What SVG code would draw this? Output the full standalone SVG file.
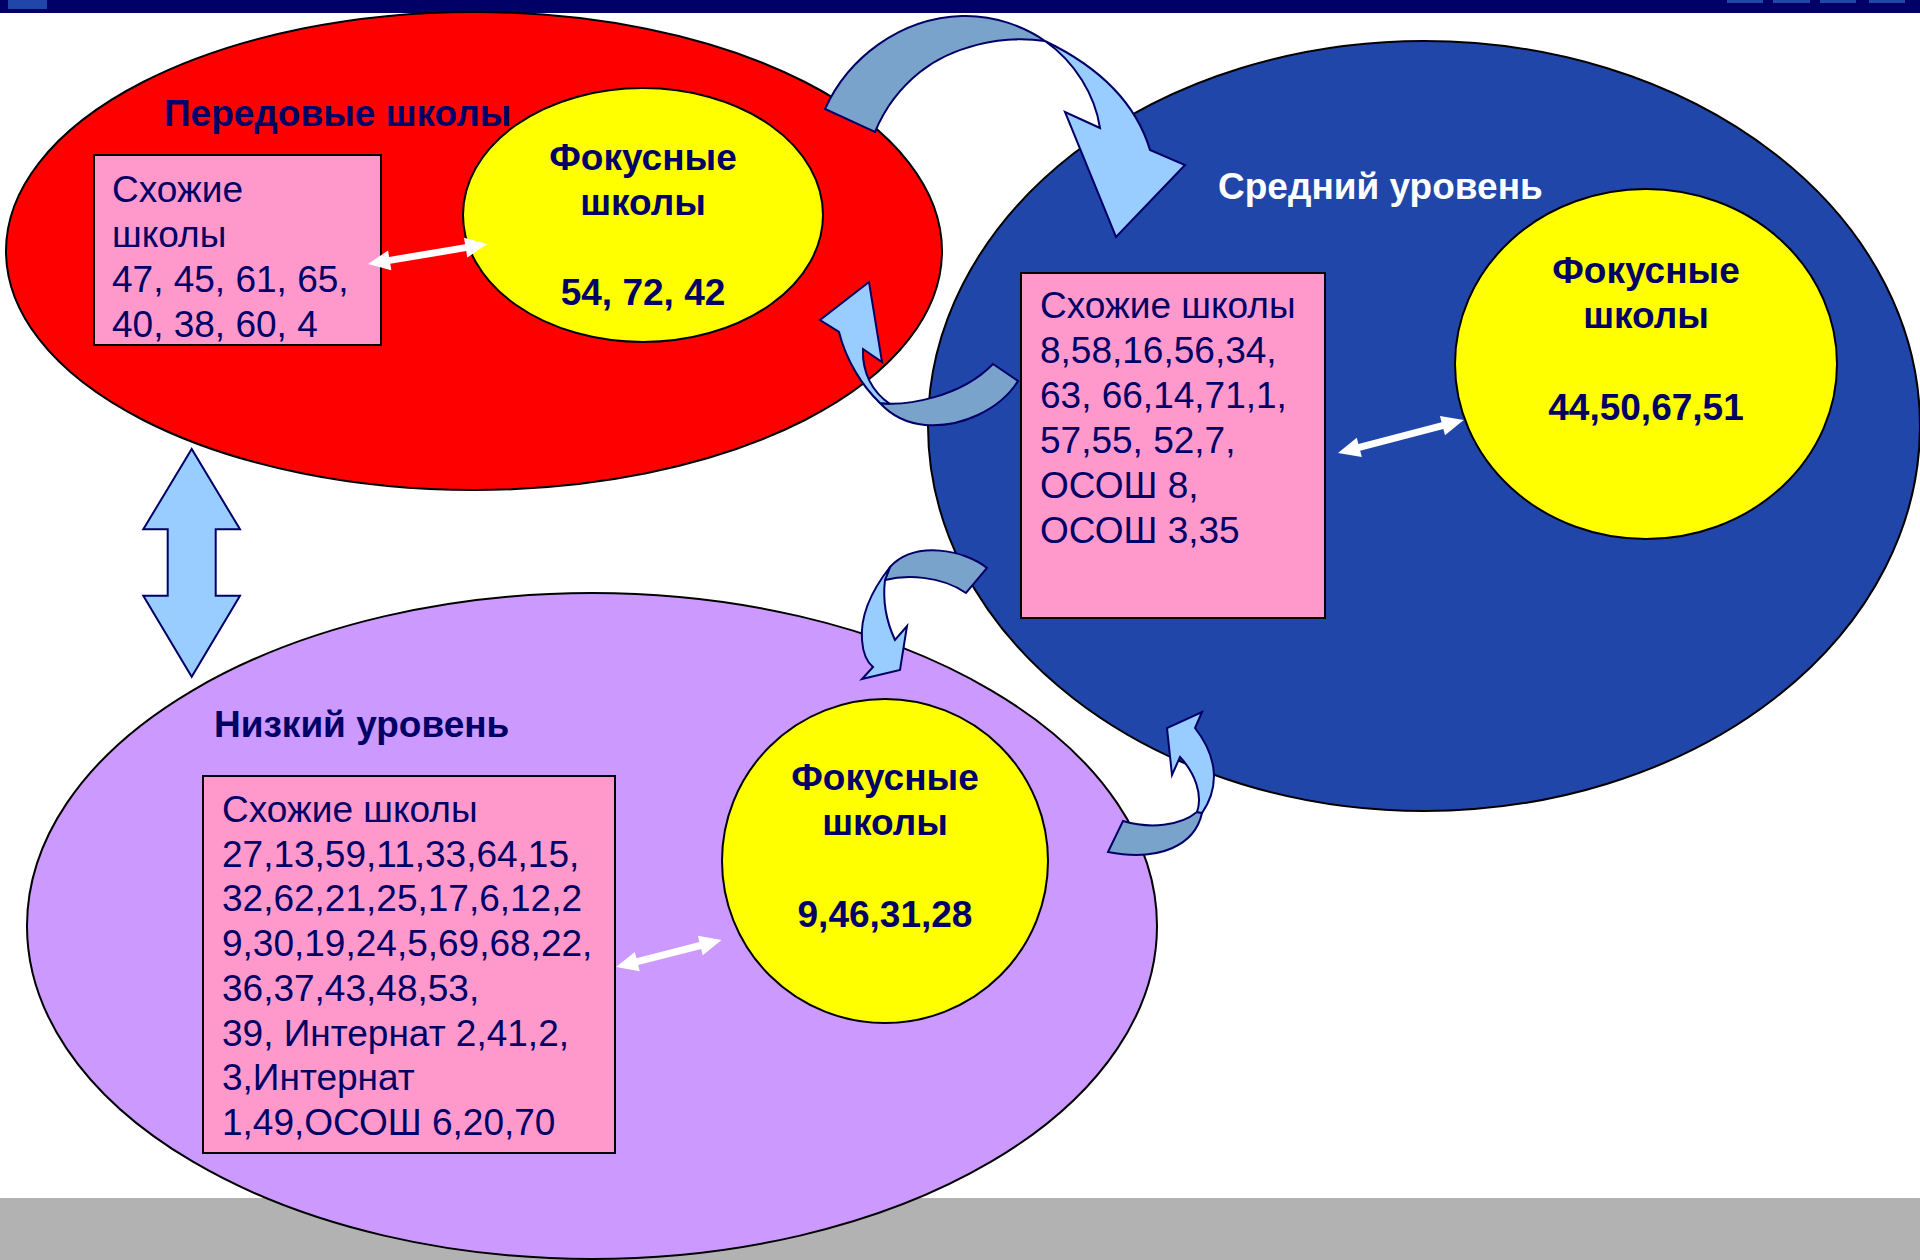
<svg xmlns="http://www.w3.org/2000/svg" width="1920" height="1260" viewBox="0 0 1920 1260">
<defs>
<style>
.ell{stroke:#000;stroke-width:2}
.box{fill:#FF99CC;stroke:#000;stroke-width:2}
.foc{fill:#FFFF00;stroke:#000;stroke-width:2}
.t{font-family:"Liberation Sans",Arial,sans-serif;font-size:37px;fill:#000066}
.tb{font-family:"Liberation Sans",Arial,sans-serif;font-size:37px;font-weight:bold;fill:#000066}
.fb{font-family:"Liberation Sans",Arial,sans-serif;font-size:37px;font-weight:bold;fill:#000066;text-anchor:middle}
.dk{fill:#7AA3CC;stroke:#000066;stroke-width:2;stroke-linejoin:miter}
.lt{fill:#99CCFF;stroke:#000066;stroke-width:2;stroke-linejoin:miter}
.wa{fill:#FFFFFF}
.sq{fill:#2146AA}
</style>
</defs>
<rect x="0" y="0" width="1920" height="1260" fill="#FFFFFF"/>
<g id="frame">
<rect x="0" y="0" width="1920" height="13" fill="#000066"/>
<rect class="sq" x="8" y="0" width="39" height="9"/>
<rect class="sq" x="1727" y="0" width="36" height="3"/>
<rect class="sq" x="1773" y="0" width="37" height="3"/>
<rect class="sq" x="1820" y="0" width="36" height="3"/>
<rect class="sq" x="1869" y="0" width="36" height="3"/>
<rect x="0" y="1198" width="1920" height="62" fill="#B2B2B2"/>
</g>
<g id="advanced">
<ellipse class="ell" cx="474" cy="251" rx="468" ry="239" fill="#FF0000"/>
<text class="tb" x="164" y="126">Передовые школы</text>
</g>
<g id="middle">
<ellipse class="ell" cx="1424" cy="426" rx="496" ry="385" fill="#2146AA"/>
<text class="tb" x="1218" y="199" style="fill:#FFFFFF">Средний уровень</text>
</g>
<g id="low">
<ellipse class="ell" cx="592" cy="926" rx="565" ry="333" fill="#CC99FF"/>
<text class="tb" x="214" y="737">Низкий уровень</text>
</g>
<g id="advanced-similar">
<rect class="box" x="94" y="155" width="287" height="190"/>
<text class="t" x="112" y="202">Схожие</text>
<text class="t" x="112" y="247">школы</text>
<text class="t" x="112" y="292">47, 45, 61, 65,</text>
<text class="t" x="112" y="337">40, 38, 60, 4</text>
</g>
<g id="advanced-focus">
<ellipse class="foc" cx="643" cy="215" rx="180" ry="127"/>
<text class="fb" x="643" y="170">Фокусные</text>
<text class="fb" x="643" y="215">школы</text>
<text class="fb" x="643" y="305">54, 72, 42</text>
</g>
<g id="middle-similar">
<rect class="box" x="1021" y="273" width="304" height="345"/>
<text class="t" x="1040" y="318">Схожие школы</text>
<text class="t" x="1040" y="363">8,58,16,56,34,</text>
<text class="t" x="1040" y="408">63, 66,14,71,1,</text>
<text class="t" x="1040" y="453">57,55, 52,7,</text>
<text class="t" x="1040" y="498">ОСОШ 8,</text>
<text class="t" x="1040" y="543">ОСОШ 3,35</text>
</g>
<g id="middle-focus">
<ellipse class="foc" cx="1646" cy="364" rx="191" ry="175"/>
<text class="fb" x="1646" y="283">Фокусные</text>
<text class="fb" x="1646" y="328">школы</text>
<text class="fb" x="1646" y="420">44,50,67,51</text>
</g>
<g id="low-similar">
<rect class="box" x="203" y="776" width="412" height="377"/>
<text class="t" x="222" y="822">Схожие школы</text>
<text class="t" x="222" y="867">27,13,59,11,33,64,15,</text>
<text class="t" x="222" y="911">32,62,21,25,17,6,12,2</text>
<text class="t" x="222" y="956">9,30,19,24,5,69,68,22,</text>
<text class="t" x="222" y="1001">36,37,43,48,53,</text>
<text class="t" x="222" y="1046">39, Интернат 2,41,2,</text>
<text class="t" x="222" y="1090">3,Интернат</text>
<text class="t" x="222" y="1135">1,49,ОСОШ 6,20,70</text>
</g>
<g id="low-focus">
<ellipse class="foc" cx="885" cy="861" rx="163" ry="162"/>
<text class="fb" x="885" y="790">Фокусные</text>
<text class="fb" x="885" y="835">школы</text>
<text class="fb" x="885" y="927">9,46,31,28</text>
</g>
<g id="connectors">
<polygon class="wa" transform="translate(368,264) rotate(-9.5)" points="0,0 22,-10 22,-3.5 99,-3.5 99,-10 121,0 99,10 99,3.5 22,3.5 22,10"/>
<polygon class="wa" transform="translate(1338,453) rotate(-14.7)" points="0,0 22,-10 22,-3.5 108,-3.5 108,-10 130,0 108,10 108,3.5 22,3.5 22,10"/>
<polygon class="wa" transform="translate(616,967) rotate(-14.3)" points="0,0 22,-10 22,-3.5 87,-3.5 87,-10 109,0 87,10 87,3.5 22,3.5 22,10"/>
<polygon class="lt" points="191.7,449 143.3,529.3 167.7,529.3 167.7,595.7 143.3,595.7 191.7,676.7 240,595.7 215.7,595.7 215.7,529.3 240,529.3"/>
<path class="dk" d="M825,109 C848,58 900,18 962,16 C995,15 1025,27 1045,41 C1000,34 950,48 920,72 C900,88 884,110 875,132 Z"/>
<path class="lt" d="M1045,41 C1095,65 1135,100 1150,150 L1185,165 L1116,237 L1065,112 L1100,128 C1095,95 1075,62 1045,41 Z"/>
<path class="dk" d="M993,364 L1018,381 C1000,410 960,428 925,425 C905,423 890,414 880,403 C905,406 960,398 993,364 Z"/>
<path class="lt" d="M880,403 C862,386 846,360 839,332 L820,320 L869,282 L882,362 L863,349 C862,372 872,392 890,404 Z"/>
<path class="dk" d="M987,568 C965,550 915,540 890,567 L885,580 C905,575 940,575 966,593 Z"/>
<path class="lt" d="M890,567 C872,590 860,615 862,640 C863,655 867,662 873,667 L862,679 L900,670 L907,626 L895,640 C888,625 882,605 885,580 Z"/>
<path class="dk" d="M1108,852 L1123,821 C1150,829 1180,826 1197,812 L1202,813 C1195,845 1160,862 1108,852 Z"/>
<path class="lt" d="M1202,813 C1218,790 1220,760 1195,728 L1202,712 L1167,728 L1172,775 L1180,757 C1195,773 1203,795 1197,812 Z"/>
</g>
</svg>
